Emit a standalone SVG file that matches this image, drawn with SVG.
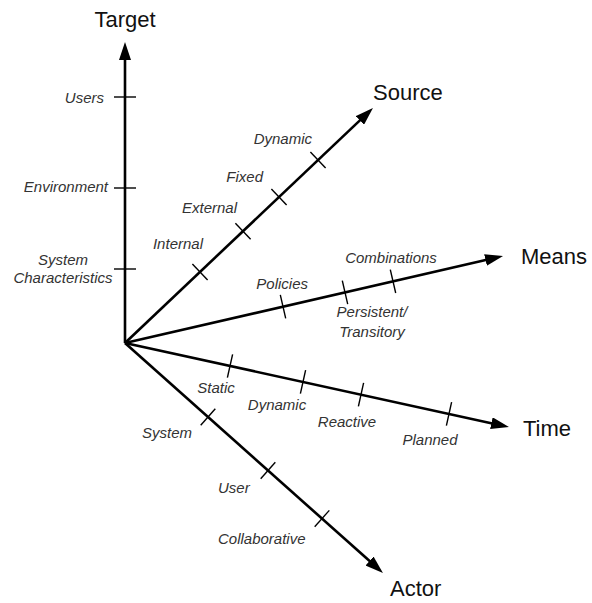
<svg xmlns="http://www.w3.org/2000/svg" width="592" height="603" viewBox="0 0 592 603">
<defs>
<marker id="arr" viewBox="0 0 18 12" refX="8" refY="6" markerWidth="18" markerHeight="12" markerUnits="userSpaceOnUse" orient="auto">
<path d="M0,0 L18,6 L0,12 z" fill="#000"/>
</marker>
<style>
.axis{stroke:#000;stroke-width:2.6;fill:none;marker-end:url(#arr)}
.tick{stroke:#000;stroke-width:1.4}
.title{font-family:"Liberation Sans",Arial,sans-serif;font-size:22px;fill:#111}
.lbl{font-family:"Liberation Sans",Arial,sans-serif;font-size:15px;font-style:italic;fill:#333}
</style>
</defs>
<rect width="592" height="603" fill="#fff"/>
<g id="connectors">
<line class="axis" x1="125" y1="343" x2="125" y2="52"/>
<line class="axis" x1="125" y1="343" x2="365.7" y2="114.9"/>
<line class="axis" x1="125" y1="343" x2="493.3" y2="258.2"/>
<line class="axis" x1="125" y1="343" x2="499.2" y2="424.9"/>
<line class="axis" x1="125" y1="343" x2="375.5" y2="566.3"/>
</g>
<g id="target">
<text class="title" x="125" y="27" text-anchor="middle">Target</text>
<line class="tick" x1="114" y1="97" x2="136" y2="97"/>
<line class="tick" x1="114" y1="188" x2="136" y2="188"/>
<line class="tick" x1="114" y1="269" x2="136" y2="269"/>
<text class="lbl" x="104" y="103" text-anchor="end">Users</text>
<text class="lbl" x="108" y="192" text-anchor="end">Environment</text>
<text class="lbl" x="63" y="265" text-anchor="middle">System</text>
<text class="lbl" x="63" y="283" text-anchor="middle">Characteristics</text>
</g>
<g id="source">
<text class="title" x="373" y="100">Source</text>
<line class="tick" x1="310.4" y1="152.1" x2="325.6" y2="168.1"/>
<line class="tick" x1="271.4" y1="189.1" x2="286.6" y2="205.1"/>
<line class="tick" x1="235.4" y1="223.2" x2="250.6" y2="239.2"/>
<line class="tick" x1="192.4" y1="263.9" x2="207.6" y2="279.9"/>
<text class="lbl" x="312" y="144" text-anchor="end">Dynamic</text>
<text class="lbl" x="263" y="182" text-anchor="end">Fixed</text>
<text class="lbl" x="237" y="213" text-anchor="end">External</text>
<text class="lbl" x="203" y="249" text-anchor="end">Internal</text>
</g>
<g id="means">
<text class="title" x="521" y="264">Means</text>
<line class="tick" x1="280.3" y1="294.9" x2="285.7" y2="318.3"/>
<line class="tick" x1="342.3" y1="280.7" x2="347.7" y2="304.1"/>
<line class="tick" x1="390.3" y1="269.6" x2="395.7" y2="293.0"/>
<text class="lbl" x="308" y="289" text-anchor="end">Policies</text>
<text class="lbl" x="391" y="263" text-anchor="middle">Combinations</text>
<text class="lbl" x="372" y="317" text-anchor="middle">Persistent/</text>
<text class="lbl" x="372" y="337" text-anchor="middle">Transitory</text>
</g>
<g id="time">
<text class="title" x="523" y="436">Time</text>
<line class="tick" x1="232.6" y1="354.3" x2="227.4" y2="377.7"/>
<line class="tick" x1="305.6" y1="370.2" x2="300.4" y2="393.6"/>
<line class="tick" x1="363.6" y1="382.9" x2="358.4" y2="406.3"/>
<line class="tick" x1="451.6" y1="402.2" x2="446.4" y2="425.6"/>
<text class="lbl" x="216" y="393" text-anchor="middle">Static</text>
<text class="lbl" x="277" y="410" text-anchor="middle">Dynamic</text>
<text class="lbl" x="347" y="427" text-anchor="middle">Reactive</text>
<text class="lbl" x="430" y="445" text-anchor="middle">Planned</text>
</g>
<g id="actor">
<text class="title" x="390" y="596">Actor</text>
<line class="tick" x1="215.3" y1="408.8" x2="200.7" y2="425.2"/>
<line class="tick" x1="275.3" y1="462.3" x2="260.7" y2="478.7"/>
<line class="tick" x1="329.3" y1="510.4" x2="314.7" y2="526.8"/>
<text class="lbl" x="192" y="438" text-anchor="end">System</text>
<text class="lbl" x="218" y="493">User</text>
<text class="lbl" x="218" y="544">Collaborative</text>
</g>
</svg>
